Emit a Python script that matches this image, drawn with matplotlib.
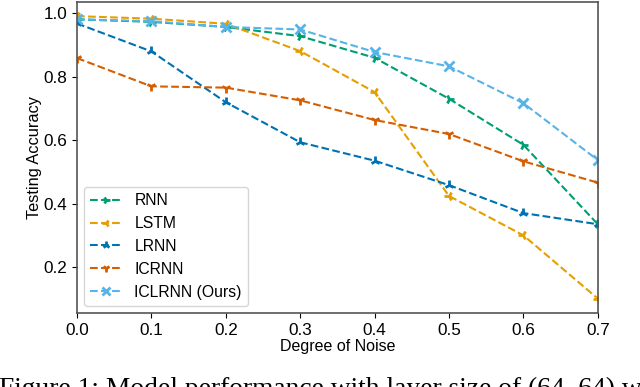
import matplotlib
matplotlib.use("Agg")
import matplotlib.pyplot as plt

plt.rcParams['font.family'] = ['Liberation Sans', 'DejaVu Sans']

noise = [0.0, 0.1, 0.2, 0.3, 0.4, 0.5, 0.6, 0.7]
rnn = [0.980, 0.972, 0.956, 0.927, 0.859, 0.730, 0.585, 0.335]
lstm = [0.990, 0.982, 0.966, 0.880, 0.751, 0.424, 0.300, 0.101]
lrnn = [0.967, 0.879, 0.719, 0.593, 0.535, 0.458, 0.370, 0.335]
icrnn = [0.858, 0.769, 0.765, 0.725, 0.663, 0.619, 0.533, 0.466]
iclrnn = [0.980, 0.974, 0.956, 0.948, 0.877, 0.832, 0.716, 0.537]

series = [
    ('RNN', rnn, '#009E73', '4'),
    ('LSTM', lstm, '#E69F00', '3'),
    ('LRNN', lrnn, '#0072B2', '2'),
    ('ICRNN', icrnn, '#D55E00', '1'),
    ('ICLRNN (Ours)', iclrnn, '#56B4E9', 'x'),
]

fig = plt.figure(figsize=(6.4, 3.87), dpi=100)
ax = fig.add_axes([0.1203, 0.1912, 0.8137, 0.8036])

for name, vals, col, mk in series:
    ax.plot(noise, vals, linestyle='--', marker=mk, color=col, label=name,
            linewidth=1.5, markersize=7, markeredgewidth=2)

ax.set_xlim(0, 0.7)
ax.set_ylim(0.0555, 1.0345)
ax.set_xticks(noise)
ax.set_yticks([0.2, 0.4, 0.6, 0.8, 1.0])
ax.tick_params(labelsize=12.3)
ax.set_xlabel('Degree of Noise', fontsize=11.5, labelpad=1)
ax.set_ylabel('Testing Accuracy', fontsize=11.8, labelpad=1)
for s in ax.spines.values():
    s.set_color('#555555')
    s.set_linewidth(1.2)

ax.legend(loc='lower left', fontsize=11.3, handlelength=2.0, borderpad=0.4,
          labelspacing=0.5, borderaxespad=0.45, markerscale=0.8)

# caption of the source figure, cropped at the bottom as in the original
fig.text(-0.002, -0.022, 'Figure 1: Model performance with layer size of (64, 64) w',
         fontsize=19.8, family='Liberation Serif', ha='left', va='baseline')

fig.savefig('out.png', dpi=100)
